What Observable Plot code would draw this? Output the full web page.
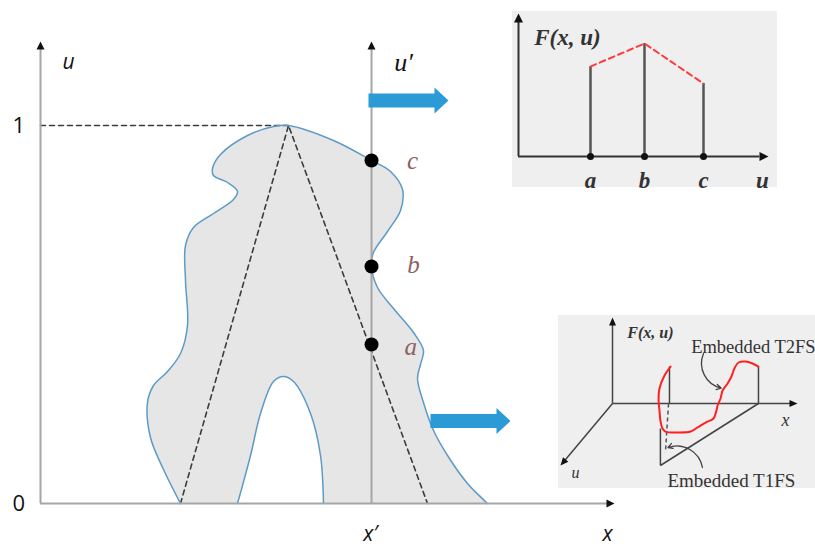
<!DOCTYPE html>
<html><head><meta charset="utf-8">
<script src="https://cdn.jsdelivr.net/npm/d3@7"></script>
<script src="https://cdn.jsdelivr.net/npm/@observablehq/plot@0.6"></script>
<style>
html,body{margin:0;padding:0;background:#fff;}
#wrap{position:relative;width:815px;height:548px;overflow:hidden;background:#fff;}
#wrap svg{position:absolute;overflow:visible;}
</style></head><body><div id="wrap"></div>
<script>
// ---------- main diagram data: x in [0,1] (axis length), u in [0,1] ----------
const blobOuter = [
  [0.2439,0],[0.2143,0.0899],[0.1916,0.1746],[0.1864,0.2672],[0.1969,0.3122],[0.2213,0.3492],
  [0.2439,0.3968],[0.2561,0.4709],[0.2526,0.5899],[0.2526,0.6825],[0.2666,0.7302],[0.3014,0.7672],
  [0.3362,0.8042],[0.3432,0.8254],[0.3258,0.8492],[0.3014,0.8677],[0.2997,0.8862],[0.3136,0.9233],
  [0.3606,0.9735],[0.4059,0.9974],[0.4321,1.0],[0.5105,0.9603],[0.5767,0.9074],[0.6098,0.8783],
  [0.6307,0.8307],[0.6272,0.7751],[0.6045,0.7196],[0.5801,0.6640],[0.5767,0.627],[0.5871,0.5714],
  [0.6150,0.5159],[0.6498,0.4524],[0.6672,0.4048],[0.6620,0.3677],[0.6568,0.3307],[0.6672,0.2672],
  [0.6847,0.1931],[0.7091,0.1270],[0.7439,0.0529],[0.7787,0]
];
const blobInner = [
  [0.4930,0],[0.4878,0.1270],[0.4704,0.2381],[0.4408,0.3228],[0.4233,0.3360],
  [0.4059,0.3228],[0.3833,0.2381],[0.3659,0.1270],[0.3432,0]
];
const below = -0.06; // fill closes below the baseline (clipped away)
const dashedTriangle = [[0.2439,0],[0.4321,1],[0.6742,0]];
const dashedLevel = [[0,1],[0.4321,1]];
const xPrime = 0.5767;
const cutPoints = [{name:"a",u:0.4206,lx:0.645,lu:0.413},{name:"b",u:0.627,lx:0.650,lu:0.632},{name:"c",u:0.9074,lx:0.648,lu:0.907}];
const yTickLabels = [{label:"1",u:1},{label:"0",u:0}];
const axisLabels = [
  {label:"u",x:0.0488,u:1.1667,font:"Open Sans"},
  {label:"u\u2032",x:0.6324,u:1.1667,font:"Liberation Serif"},
  {label:"x\u2032",x:0.5749,u:-0.082,font:"Open Sans"},
  {label:"x",x:0.9878,u:-0.082,font:"Open Sans"}
];
const blueArrows = [{x:0.5714,u:1.0661},{x:0.6794,u:0.2183}];

// ---------- top inset data ----------
const stems = [{name:"a",x:0.288,F:0.629},{name:"b",x:0.504,F:0.790},{name:"c",x:0.740,F:0.510}];
const insetTopLabels = [{t:"F(x, u)",x:0.196,y:0.832},{t:"a",x:0.288,y:-0.168},{t:"b",x:0.504,y:-0.168},{t:"c",x:0.740,y:-0.168},{t:"u",x:0.976,y:-0.168}];

// ---------- bottom inset data ----------
const embeddedT2 = [
  [0.314,0.430],[0.281,0.326],[0.254,0.174],[0.249,0.035],[0.254,-0.081],[0.259,-0.198],[0.270,-0.291],
  [0.286,-0.326],[0.357,-0.337],[0.422,-0.326],[0.459,-0.279],[0.503,-0.221],[0.546,-0.174],[0.562,-0.081],
  [0.568,-0.023],[0.584,0.058],[0.595,0.151],[0.622,0.233],[0.643,0.314],[0.659,0.407],[0.681,0.477],
  [0.719,0.488],[0.757,0.465],[0.789,0.430]
];
const insetSegments = [
  {x1:0,y1:0,x2:0,y2:0.96},{x1:0,y1:0,x2:0.965,y2:0},{x1:0,y1:0,x2:-0.265,y2:-0.68},
  {x1:0.308,y1:0,x2:0.308,y2:0.43},{x1:0.789,y1:0,x2:0.789,y2:0.43},
  {x1:0.259,y1:-0.291,x2:0.259,y2:-0.721},{x1:0.259,y1:-0.721,x2:0.789,y2:0}
];
const insetDashed = [{x1:0.303,y1:0,x2:0.286,y2:-0.57}];
const insetHeads = [{x:0,y:1,a:-90},{x:1,y:0,a:0},{x:-0.281,y:-0.721,a:130}];
const insetPointers = [{x1:0.492,y1:0.581,x2:0.587,y2:0.18},{x1:0.486,y1:-0.744,x2:0.30,y2:-0.512}];
const insetBotLabels = [
  {t:"F(x, u)",x:0.205,y:0.826,size:16,style:"italic",weight:"bold",anchor:"middle"},
  {t:"x",x:0.935,y:-0.198,size:18,style:"italic",weight:"normal",anchor:"middle"},
  {t:"u",x:-0.20,y:-0.802,size:16,style:"italic",weight:"normal",anchor:"middle"},
  {t:"Embedded T2FS",x:0.425,y:0.651,size:18.5,style:"normal",weight:"normal",anchor:"start"},
  {t:"Embedded T1FS",x:0.297,y:-0.895,size:19,style:"normal",weight:"normal",anchor:"start"}
];

// ---------- helpers ----------
function head(angle, len, hw) {
  const r = angle * Math.PI / 180, dx = Math.cos(r), dy = Math.sin(r);
  return {draw(ctx) {
    const bx = -dx * len, by = -dy * len;
    ctx.moveTo(0, 0);
    ctx.lineTo(bx - dy * hw, by + dx * hw);
    ctx.lineTo(bx + dy * hw, by - dx * hw);
    ctx.closePath();
  }};
}
const blockArrow = {draw(ctx, l) {
  const bw = 7, hw = 13, hl = 14;
  ctx.moveTo(-bw, 0); ctx.lineTo(-bw, -(l - hl)); ctx.lineTo(-hw, -(l - hl)); ctx.lineTo(0, -l);
  ctx.lineTo(hw, -(l - hl)); ctx.lineTo(bw, -(l - hl)); ctx.lineTo(bw, 0); ctx.closePath();
}};
const px = d => d[0], py = d => d[1];
const wrap = document.getElementById("wrap");
function place(el, left, top) { el.style.left = left + "px"; el.style.top = top + "px"; wrap.appendChild(el); }

const fillPath = [
  ...blobOuter,
  [blobOuter[blobOuter.length - 1][0], below], [blobInner[0][0], below],
  ...blobInner,
  [blobInner[blobInner.length - 1][0], below], [blobOuter[0][0], below]
];

// ---------- main ----------
const main = Plot.plot({
  width: 815, height: 548,
  marginLeft: 40, marginRight: 201, marginTop: 40, marginBottom: 45,
  x: {domain: [0, 1], range: [40, 614], axis: null},
  y: {domain: [0, 1], range: [503, 125], axis: null},
  marks: [
    Plot.line(fillPath, {x: px, y: py, curve: "catmull-rom", fill: "#e6e6e6", stroke: "none", clip: true}),
    Plot.line(dashedLevel, {x: px, y: py, stroke: "#3c3c3c", strokeWidth: 1.6, strokeDasharray: "5,4"}),
    Plot.line(dashedTriangle, {x: px, y: py, stroke: "#3c3c3c", strokeWidth: 1.6, strokeDasharray: "5,4"}),
    Plot.line(blobOuter, {x: px, y: py, curve: "catmull-rom", stroke: "#5b9bc6", strokeWidth: 1.5}),
    Plot.line(blobInner, {x: px, y: py, curve: "catmull-rom", stroke: "#5b9bc6", strokeWidth: 1.5}),
    Plot.ruleX([0, xPrime], {x: d => d, y1: 0, y2: 1.205, stroke: "#a6a6a6", strokeWidth: 2}),
    Plot.ruleY([0], {x1: 0, x2: 0.99, stroke: "#a6a6a6", strokeWidth: 2}),
    Plot.dot([0, xPrime], {x: d => d, y: 1.2222, r: 4, symbol: head(-90, 8, 4), fill: "#111", stroke: "none"}),
    Plot.dot([1], {x: d => d, y: 0, r: 4, symbol: head(0, 8, 4), fill: "#111", stroke: "none"}),
    Plot.dot(cutPoints, {x: xPrime, y: "u", r: 7, fill: "#000", stroke: "none"}),
    Plot.text(cutPoints, {x: "lx", y: "lu", text: "name", fill: "#8c6363", fontSize: 25, fontStyle: "italic", fontFamily: "Liberation Serif"}),
    Plot.text(yTickLabels, {x: -0.038, y: "u", text: "label", fill: "#111", fontSize: 22, fontFamily: "Open Sans"}),
    Plot.text(axisLabels.filter(d => d.font === "Open Sans"), {x: "x", y: "u", text: "label", fill: "#111", fontSize: 21, fontStyle: "italic", fontFamily: "Open Sans"}),
    Plot.text(axisLabels.filter(d => d.font !== "Open Sans"), {x: "x", y: "u", text: "label", fill: "#111", fontSize: 26, fontStyle: "italic", fontFamily: "Liberation Serif"}),
    Plot.vector(blueArrows, {x: "x", y: "u", length: 80, rotate: 90, anchor: "start", shape: blockArrow, fill: "#2b9bd6", stroke: "none"})
  ]
});
place(main, 0, 0);

// ---------- top inset ----------
const inset1 = Plot.plot({
  width: 265, height: 176, margin: 0,
  x: {domain: [0, 1], range: [6, 256], axis: null},
  y: {domain: [0, 1], range: [145, 2], axis: null},
  style: {background: "#efefef", overflow: "visible"},
  marks: [
    Plot.ruleX([0], {y1: 0, y2: 0.95, stroke: "#333", strokeWidth: 2}),
    Plot.ruleY([0], {x1: 0, x2: 0.965, stroke: "#333", strokeWidth: 2}),
    Plot.dot([0], {x: 0, y: 1, r: 4, symbol: head(-90, 9, 4.5), fill: "#111", stroke: "none"}),
    Plot.dot([0], {x: 1, y: 0, r: 4, symbol: head(0, 9, 4.5), fill: "#111", stroke: "none"}),
    Plot.ruleX(stems, {x: "x", y1: 0, y2: "F", stroke: "#555", strokeWidth: 2.5}),
    Plot.line(stems, {x: "x", y: "F", stroke: "#ff3a3a", strokeWidth: 2, strokeDasharray: "6,4"}),
    Plot.dot(stems, {x: "x", y: 0, r: 3.5, fill: "#111", stroke: "none"}),
    Plot.text(insetTopLabels, {x: "x", y: "y", text: "t", fill: "#333", fontSize: 23, fontStyle: "italic", fontWeight: "bold", fontFamily: "Liberation Serif"})
  ]
});
place(inset1, 512, 11);

// ---------- bottom inset ----------
const inset2 = Plot.plot({
  width: 257, height: 173, margin: 0,
  x: {domain: [0, 1], range: [54, 239], axis: null},
  y: {domain: [0, 1], range: [88, 2], axis: null},
  style: {background: "#efefef", overflow: "visible"},
  marks: [
    Plot.link(insetSegments, {x1: "x1", y1: "y1", x2: "x2", y2: "y2", stroke: "#444", strokeWidth: 1.5}),
    Plot.link(insetDashed, {x1: "x1", y1: "y1", x2: "x2", y2: "y2", stroke: "#555", strokeWidth: 1.5, strokeDasharray: "4,3"}),
    Plot.dot(insetHeads.filter(d => d.a === -90), {x: "x", y: "y", r: 4, symbol: head(-90, 8, 3.5), fill: "#111", stroke: "none"}),
    Plot.dot(insetHeads.filter(d => d.a === 0), {x: "x", y: "y", r: 4, symbol: head(0, 8, 3.5), fill: "#111", stroke: "none"}),
    Plot.dot(insetHeads.filter(d => d.a === 130), {x: "x", y: "y", r: 4, symbol: head(130, 8, 3.5), fill: "#111", stroke: "none"}),
    Plot.line(embeddedT2, {x: px, y: py, curve: "catmull-rom", stroke: "#ff2020", strokeWidth: 2}),
    Plot.arrow(insetPointers, {x1: "x1", y1: "y1", x2: "x2", y2: "y2", bend: -50, headLength: 6, stroke: "#444", strokeWidth: 1.3}),
    ...insetBotLabels.map(d => Plot.text([d], {x: "x", y: "y", text: "t", fill: "#333", fontSize: d.size, fontStyle: d.style, fontWeight: d.weight, textAnchor: d.anchor, fontFamily: "Liberation Serif"}))
  ]
});
place(inset2, 558, 315);
</script>
</body></html>
